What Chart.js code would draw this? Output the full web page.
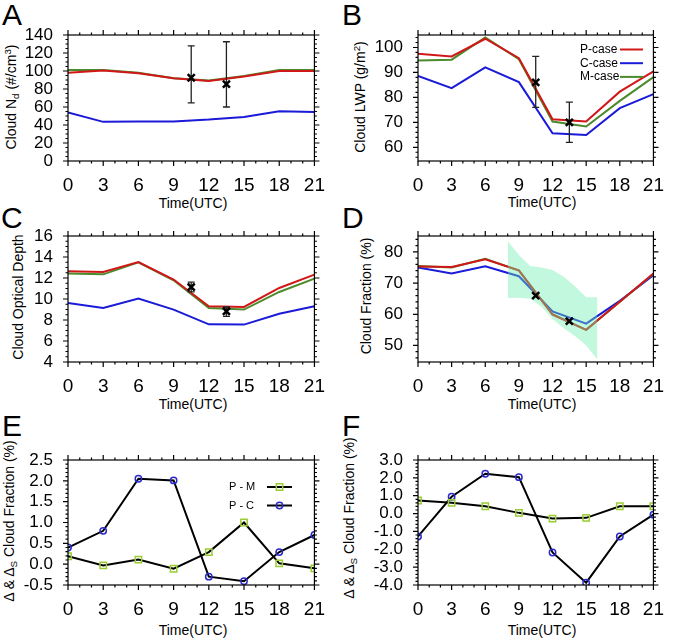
<!DOCTYPE html>
<html>
<head>
<meta charset="utf-8">
<script src="https://cdn.jsdelivr.net/npm/chart.js@4.4.0/dist/chart.umd.min.js"></script>
<style>
body { margin: 0; background: #fff; width: 677px; height: 639px; position: relative; overflow: hidden;
       font-family: "Liberation Sans", Arial, sans-serif; color: #000; }
canvas { position: absolute; }
.letter { position: absolute; font-size: 30px; line-height: 30px; }
.ytitle { position: absolute; font-size: 14px; line-height: 14px; white-space: nowrap;
          transform: translate(-50%, -50%) rotate(-90deg); }
.xtitle { position: absolute; font-size: 14px; line-height: 14px; white-space: nowrap;
          transform: translate(-50%, -50%); }
sub { font-size: 70%; vertical-align: -0.3em; line-height: 0; }
sup { font-size: 70%; vertical-align: 0.5em; line-height: 0; }
</style>
</head>
<body>

<div class="letter" style="left:2px;top:0px">A</div>
<div class="letter" style="left:342px;top:0px">B</div>
<div class="letter" style="left:1px;top:203px">C</div>
<div class="letter" style="left:342px;top:203px">D</div>
<div class="letter" style="left:2px;top:411px">E</div>
<div class="letter" style="left:342px;top:411px">F</div>

<div class="ytitle" style="left:11px;top:97px">Cloud N<sub>d</sub> (#/cm<sup>3</sup>)</div>
<div class="ytitle" style="left:360px;top:97px">Cloud LWP (g/m<sup>2</sup>)</div>
<div class="ytitle" style="left:18px;top:297px">Cloud Optical Depth</div>
<div class="ytitle" style="left:366px;top:296px">Cloud Fraction (%)</div>
<div class="ytitle" style="left:9px;top:521px">&Delta; &amp; &Delta;<sub>S</sub> Cloud Fraction (%)</div>
<div class="ytitle" style="left:349px;top:518px">&Delta; &amp; &Delta;<sub>S</sub> Cloud Fraction (%)</div>

<div class="xtitle" style="left:193px;top:203px">Time(UTC)</div>
<div class="xtitle" style="left:542px;top:202px">Time(UTC)</div>
<div class="xtitle" style="left:193px;top:404px">Time(UTC)</div>
<div class="xtitle" style="left:542px;top:404px">Time(UTC)</div>
<div class="xtitle" style="left:193px;top:630px">Time(UTC)</div>
<div class="xtitle" style="left:542px;top:630px">Time(UTC)</div>

<canvas id="cA" width="338" height="210" style="left:0;top:0"></canvas>
<canvas id="cB" width="339" height="210" style="left:338px;top:0"></canvas>
<canvas id="cC" width="338" height="210" style="left:0;top:210px"></canvas>
<canvas id="cD" width="339" height="210" style="left:338px;top:210px"></canvas>
<canvas id="cE" width="338" height="219" style="left:0;top:420px"></canvas>
<canvas id="cF" width="339" height="219" style="left:338px;top:420px"></canvas>

<script>
// hours of the day (UTC) and observation times
const hours = [0, 3, 6, 9, 12, 15, 18, 21];
const obsHours = [10.5, 13.5];

// A - cloud droplet number
const ndP = [98, 100.5, 97.5, 92, 89, 94, 100, 100];
const ndC = [54, 43.5, 44, 44, 46, 49, 55.4, 54.5];
const ndM = [101, 101, 98, 92, 89.5, 94.5, 101, 101];
const ndObs = [92.5, 85.4];
const ndObsLow = [64.5, 60];
const ndObsHigh = [128, 132.5];
const ndTicks = [0, 20, 40, 60, 80, 100, 120, 140];

// B - liquid water path
const lwpP = [97.5, 96.4, 103.5, 95.7, 71.2, 70.3, 82.3, 90.4];
const lwpC = [88.6, 83.7, 92, 86.1, 65.6, 64.9, 75.7, 81.3];
const lwpM = [94.8, 95.1, 104, 95.3, 70.3, 68.3, 78.6, 88.1];
const lwpObs = [86, 70];
const lwpObsLow = [76, 62];
const lwpObsHigh = [96.4, 78.1];
const lwpTicks = [60, 70, 80, 90, 100];

// C - optical depth
const tauP = [12.64, 12.57, 13.52, 11.85, 9.3, 9.24, 11.05, 12.32];
const tauC = [9.62, 9.14, 10.04, 8.99, 7.59, 7.56, 8.6, 9.3];
const tauM = [12.42, 12.35, 13.5, 11.78, 9.14, 8.99, 10.67, 11.94];
const tauObs = [11.14, 8.83];
const tauObsLow = [10.67, 8.35];
const tauObsHigh = [11.6, 9.24];
const tauTicks = [4, 6, 8, 10, 12, 14, 16];

// D - cloud fraction, obs spread band
const cfP = [75.3, 75.2, 77.6, 74.1, 59.9, 55.0, 64, 73.1];
const cfC = [75, 73.1, 75.4, 72.2, 60.9, 57, 64.3, 72.5];
const cfM = [75.5, 75, 77.8, 74, 60, 55, 64, 73];
const cfObs = [66, 57.8];
const bandHours = [8, 9, 10, 11, 12, 13, 14, 15, 16];
const bandHigh = [83.5, 79, 75.5, 75, 74.2, 72, 69, 65.5, 65.5];
const bandLow = [65.2, 65.3, 65, 62.5, 58.5, 55.5, 53, 50, 45.5];
const cfTicks = [50, 60, 70, 80];

// E / F - differences
const diffPM_E = [0.19, -0.03, 0.11, -0.11, 0.29, 1.0, 0.02, -0.1];
const diffPC_E = [0.40, 0.80, 2.05, 2.01, -0.30, -0.41, 0.29, 0.70];
const diffTicksE = [-0.5, 0, 0.5, 1.0, 1.5, 2.0, 2.5];
const diffPM_F = [0.73, 0.6, 0.41, 0.04, -0.28, -0.24, 0.41, 0.41];
const diffPC_F = [-1.28, 0.94, 2.23, 2.04, -2.18, -3.87, -1.28, -0.06];
const diffTicksF = [-4, -3, -2, -1, 0, 1, 2, 3];

const FONT = '"Liberation Sans", Arial, sans-serif';
const RED = '#d01818', BLUE = '#1a1ad8', GREEN = '#4b8b2b';
const SQ = '#9acd32', CIRC = '#2a2acc';

const pts = (xs, ys) => xs.map((x, i) => ({ x: x, y: ys[i] }));

function lineSet(label, ys, color, order) {
  return { label: label, data: pts(hours, ys), borderColor: color, borderWidth: 2,
           pointRadius: 0, fill: false, tension: 0, order: order };
}
function obsSet(ys) {
  return { data: pts(obsHours, ys), showLine: false, pointStyle: 'crossRot', pointRadius: 5,
           pointBorderColor: '#000', pointBorderWidth: 2.5, borderColor: '#000', order: 0 };
}
function barSets(low, high) {
  return obsHours.map((h, i) => ({
    data: [{ x: h, y: low[i] }, { x: h, y: high[i] }], borderColor: '#222', borderWidth: 1.3,
    pointStyle: 'line', pointRadius: 3.5, pointBorderColor: '#222', pointBorderWidth: 1.3, order: 1
  }));
}
function diffSet(label, ys, style, color, r) {
  return { label: label, data: pts(hours, ys), borderColor: '#000', borderWidth: 2, tension: 0,
           pointStyle: style, pointRadius: r, pointBorderColor: color, pointBorderWidth: 1.5,
           pointBackgroundColor: 'rgba(0,0,0,0)', fill: false };
}

// NCL style frame with outward ticks on all four sides
const frameTicks = {
  id: 'frameTicks',
  afterDraw(chart, args, o) {
    const { ctx, chartArea: a } = chart;
    const xs = chart.scales.x, ys = chart.scales.y;
    ctx.save();
    ctx.strokeStyle = '#000';
    ctx.lineWidth = 1.2;
    ctx.beginPath();
    const seg = (x1, y1, x2, y2) => { ctx.moveTo(x1, y1); ctx.lineTo(x2, y2); };
    for (let v = 0; v <= 21; v++) {
      const px = xs.getPixelForValue(v);
      const len = hours.includes(v) ? 5 : 2.5;
      seg(px, a.bottom, px, a.bottom + len);
      seg(px, a.top, px, a.top - len);
    }
    const step = o.minor;
    for (let i = Math.ceil(ys.min / step - 1e-6); i * step <= ys.max + 1e-6; i++) {
      const v = i * step;
      const py = ys.getPixelForValue(v);
      const len = o.ticks.some(t => Math.abs(t - v) < 1e-6) ? 5 : 2.5;
      seg(a.left, py, a.left - len, py);
      seg(a.right, py, a.right + len, py);
    }
    ctx.stroke();
    ctx.strokeRect(a.left, a.top, a.right - a.left, a.bottom - a.top);
    ctx.restore();
  }
};

// NCL style legend: text then line sample (with marker)
const nclLegend = {
  id: 'nclLegend',
  afterDraw(chart, args, o) {
    if (!o.items) return;
    const ctx = chart.ctx;
    ctx.save();
    ctx.font = o.size + 'px ' + FONT;
    ctx.textBaseline = 'middle';
    o.items.forEach((it, i) => {
      const y = o.y + i * o.gap;
      ctx.fillStyle = '#000';
      ctx.fillText(it.text, o.x, y);
      ctx.strokeStyle = it.line;
      ctx.lineWidth = 2;
      ctx.beginPath();
      ctx.moveTo(o.lx1, y); ctx.lineTo(o.lx2, y);
      ctx.stroke();
      if (it.marker) {
        ctx.lineWidth = 1.5;
        ctx.strokeStyle = it.markerColor;
        ctx.fillStyle = 'rgba(0,0,0,0)';
        Chart.helpers.drawPoint(ctx, { pointStyle: it.marker, radius: it.r, rotation: 0, borderWidth: 1.5 },
                                (o.lx1 + o.lx2) / 2, y);
      }
    });
    ctx.restore();
  }
};

function makePanel(id, lay, yCfg, datasets, legend) {
  return new Chart(document.getElementById(id), {
    type: 'line',
    data: { datasets: datasets },
    plugins: [frameTicks, nclLegend],
    options: {
      responsive: false,
      animation: false,
      layout: { padding: { top: lay.top, right: lay.right, left: 0, bottom: 0 } },
      plugins: {
        legend: { display: false },
        tooltip: { enabled: false },
        frameTicks: { minor: yCfg.minor, ticks: yCfg.ticks },
        nclLegend: legend || {}
      },
      scales: {
        x: {
          type: 'linear', min: 0, max: 21,
          grid: { display: false, drawTicks: false }, border: { display: false },
          afterBuildTicks: s => { s.ticks = hours.map(v => ({ value: v })); },
          afterFit: s => { s.height = lay.xh; },
          ticks: { font: { family: FONT, size: 19 }, color: '#000', padding: 13,
                   maxRotation: 0, autoSkip: false }
        },
        y: {
          type: 'linear', min: yCfg.min, max: yCfg.max,
          grid: { display: false, drawTicks: false }, border: { display: false },
          afterBuildTicks: s => { s.ticks = yCfg.ticks.map(v => ({ value: v })); },
          afterFit: s => { s.width = lay.yw; },
          ticks: { font: { family: FONT, size: 17 }, color: '#000', padding: 15, autoSkip: false,
                   callback: yCfg.fmt || (v => v) }
        }
      }
    }
  });
}

const col1row1 = { top: 35, right: 21, yw: 68, xh: 49 };
const col2row1 = { top: 35, right: 11, yw: 80, xh: 49 };
const col1row2 = { top: 26, right: 21, yw: 68, xh: 58 };
const col2row2 = { top: 26, right: 11, yw: 80, xh: 58 };
const col1row3 = { top: 40, right: 21, yw: 68, xh: 54 };
const col2row3 = { top: 40, right: 11, yw: 80, xh: 54 };

makePanel('cA', col1row1, { min: 0, max: 140, ticks: ndTicks, minor: 5 }, [
  obsSet(ndObs), ...barSets(ndObsLow, ndObsHigh),
  lineSet('P-case', ndP, RED, 2), lineSet('M-case', ndM, GREEN, 3), lineSet('C-case', ndC, BLUE, 4)
]);

makePanel('cB', col2row1, { min: 54.5, max: 105, ticks: lwpTicks, minor: 2 }, [
  obsSet(lwpObs), ...barSets(lwpObsLow, lwpObsHigh),
  lineSet('P-case', lwpP, RED, 2), lineSet('M-case', lwpM, GREEN, 3), lineSet('C-case', lwpC, BLUE, 4)
], {
  x: 242, y: 49.5, gap: 13.7, size: 12, lx1: 282, lx2: 305,
  items: [{ text: 'P-case', line: RED }, { text: 'C-case', line: BLUE }, { text: 'M-case', line: GREEN }]
});

makePanel('cC', col1row2, { min: 4, max: 16, ticks: tauTicks, minor: 0.5 }, [
  obsSet(tauObs), ...barSets(tauObsLow, tauObsHigh),
  lineSet('P-case', tauP, RED, 2), lineSet('M-case', tauM, GREEN, 3), lineSet('C-case', tauC, BLUE, 4)
]);

makePanel('cD', col2row2, { min: 44.7, max: 85.1, ticks: cfTicks, minor: 2 }, [
  { data: pts(bandHours, bandHigh), borderWidth: 0, pointRadius: 0, fill: '+1',
    backgroundColor: 'rgba(110,238,175,0.42)', order: 1 },
  { data: pts(bandHours, bandLow), borderWidth: 0, pointRadius: 0, fill: false, order: 1 },
  obsSet(cfObs),
  lineSet('P-case', cfP, RED, 2), lineSet('M-case', cfM, GREEN, 3), lineSet('C-case', cfC, BLUE, 4)
]);

makePanel('cE', col1row3, { min: -0.5, max: 2.5, ticks: diffTicksE, minor: 0.1, fmt: v => v.toFixed(1) }, [
  diffSet('P - M', diffPM_E, 'rect', SQ, 4.5), diffSet('P - C', diffPC_E, 'circle', CIRC, 3.2)
], {
  x: 229, y: 67, gap: 18.5, size: 11, lx1: 267, lx2: 292,
  items: [{ text: 'P - M', line: '#000', marker: 'rect', markerColor: SQ, r: 4.5 },
          { text: 'P - C', line: '#000', marker: 'circle', markerColor: CIRC, r: 3.2 }]
});

makePanel('cF', col2row3, { min: -4, max: 3, ticks: diffTicksF, minor: 0.2, fmt: v => v.toFixed(1) }, [
  diffSet('P - M', diffPM_F, 'rect', SQ, 4.5), diffSet('P - C', diffPC_F, 'circle', CIRC, 3.2)
]);
</script>
</body>
</html>
